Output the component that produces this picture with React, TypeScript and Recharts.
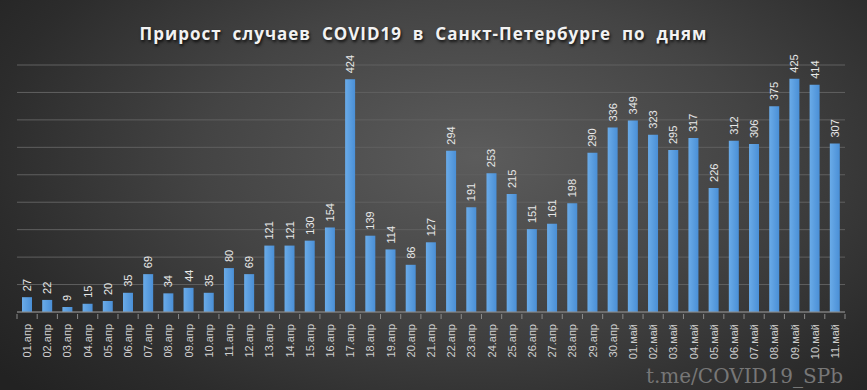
import React from "react";
import {
  BarChart,
  Bar,
  XAxis,
  YAxis,
  CartesianGrid,
  LabelList,
} from "recharts";

const days = [
  "01.апр", "02.апр", "03.апр", "04.апр", "05.апр", "06.апр", "07.апр", "08.апр",
  "09.апр", "10.апр", "11.апр", "12.апр", "13.апр", "14.апр", "15.апр", "16.апр",
  "17.апр", "18.апр", "19.апр", "20.апр", "21.апр", "22.апр", "23.апр", "24.апр",
  "25.апр", "26.апр", "27.апр", "28.апр", "29.апр", "30.апр", "01.май", "02.май",
  "03.май", "04.май", "05.май", "06.май", "07.май", "08.май", "09.май", "10.май",
  "11.май",
];

const newCases = [
  27, 22, 9, 15, 20, 35, 69, 34, 44, 35, 80, 69, 121, 121, 130, 154, 424, 139, 114,
  86, 127, 294, 191, 253, 215, 151, 161, 198, 290, 336, 349, 323, 295, 317, 226, 312,
  306, 375, 425, 414, 307,
];

const yTicks = [0, 50, 100, 150, 200, 250, 300, 350, 400, 450];

const data = days.map((day, i) => ({ day, cases: newCases[i] }));

const W = 867;
const H = 390;
const M = { top: 65, right: 22, left: 17, bottom: 0 };
const band = (W - M.left - M.right) / days.length;

function DayTick(props: any) {
  const { x, y, payload, index } = props;
  const half = band / 2;
  return (
    <g>
      <line x1={x - half} y1={y - 8} x2={x - half} y2={y - 3} stroke="#8a8a8a" />
      {index === days.length - 1 && (
        <line x1={x + half} y1={y - 8} x2={x + half} y2={y - 3} stroke="#8a8a8a" />
      )}
      <text
        x={x}
        y={y}
        transform={`rotate(-90 ${x} ${y})`}
        textAnchor="end"
        dy={4}
        dx={-2}
        fill="#cfcfcf"
        fontSize={11}
        fontFamily="'Liberation Sans', Arial, sans-serif"
      >
        {payload.value}
      </text>
    </g>
  );
}

function ValueLabel(props: any) {
  const { x, y, width, value } = props;
  const cx = x + width / 2;
  const ty = y - 6;
  return (
    <text
      x={cx}
      y={ty}
      transform={`rotate(-90 ${cx} ${ty})`}
      textAnchor="start"
      dy={4}
      fill="#e8e8e8"
      fontSize={11}
      fontFamily="'Liberation Sans', Arial, sans-serif"
    >
      {value}
    </text>
  );
}

export default function App() {
  return (
    <div
      style={{
        position: "absolute",
        left: 0,
        top: 0,
        width: W,
        height: H,
        overflow: "hidden",
        background:
          "radial-gradient(ellipse 70% 90% at 55% 40%, #5c5c5c 0%, #444 45%, #2c2c2c 80%, #222 100%)",
      }}
    >
      <div
        style={{
          position: "absolute",
          top: 22,
          left: -10,
          width: W,
          textAlign: "center",
          whiteSpace: "pre",
          color: "#f2f2f2",
          fontFamily: "'Open Sans', 'DejaVu Sans', sans-serif",
          fontWeight: 700,
          fontSize: 17,
          letterSpacing: 1,
          textShadow: "1px 2px 3px rgba(0,0,0,0.8)",
        }}
      >
        {"Прирост  случаев  COVID19  в  Санкт-Петербурге  по  дням"}
      </div>
      <BarChart width={W} height={H} data={data} margin={M} style={{ position: "absolute", left: 0, top: 0 }}>
        <defs>
          <linearGradient id="barFill" x1="0" y1="0" x2="1" y2="0">
            <stop offset="0%" stopColor="#6aabe8" />
            <stop offset="100%" stopColor="#4a8fd6" />
          </linearGradient>
        </defs>
        <CartesianGrid vertical={false} stroke="#606060" strokeWidth={1} />
        <YAxis hide domain={[0, 450]} ticks={yTicks} />
        <XAxis
          dataKey="day"
          interval={0}
          height={78}
          tickLine={false}
          axisLine={{ stroke: "#8a8a8a" }}
          tick={<DayTick />}
          tickSize={8}
        />
        <Bar dataKey="cases" barSize={10} fill="url(#barFill)" isAnimationActive={false}>
          <LabelList dataKey="cases" content={<ValueLabel />} />
        </Bar>
      </BarChart>
      <div
        style={{
          position: "absolute",
          right: 24,
          top: 364,
          color: "#777",
          fontFamily: "'DejaVu Serif', 'Liberation Serif', serif",
          fontSize: 20,
          lineHeight: "24px",
        }}
      >
        t.me/COVID19_SPb
      </div>
    </div>
  );
}
